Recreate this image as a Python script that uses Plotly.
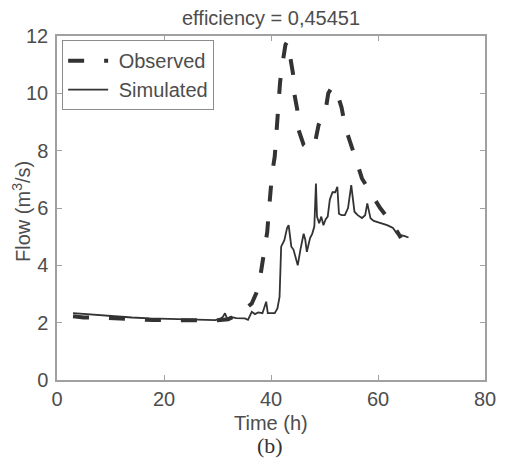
import plotly.graph_objects as go

# Observed flow (dashed)
obs_t = [3.0, 5.0, 8.0, 11.0, 14.0, 18.0, 22.0, 25.0, 28.0, 30.0, 32.0, 33.5, 34.2, 35.3, 36.4,
         37.3, 37.8, 38.3, 38.9, 39.3, 39.6, 39.9, 40.2, 40.7, 41.0, 41.3, 41.5, 41.7, 42.2,
         42.7, 43.1, 43.6, 44.1, 44.3, 44.9, 45.1, 45.6, 46.1, 47.2, 48.3, 48.9, 49.6, 50.2,
         50.7, 51.5, 52.3, 53.2, 53.9, 54.9, 55.5, 56.1, 57.0, 58.0, 58.9, 60.4, 61.5, 62.6,
         63.5, 64.3]
obs_q = [2.22, 2.18, 2.17, 2.16, 2.13, 2.09, 2.08, 2.08, 2.07, 2.08, 2.12, 2.25, 2.38, 2.50, 2.67,
         3.05, 3.37, 3.95, 4.59, 5.17, 5.90, 6.50, 7.20, 7.80, 8.50, 9.10, 9.80, 10.40, 11.10,
         11.70, 11.82, 11.33, 10.70, 10.05, 9.44, 8.75, 8.45, 8.20, 8.02, 8.34, 8.90, 9.20, 9.40,
         10.00, 10.25, 10.05, 9.50, 8.80, 8.28, 7.90, 7.56, 7.03, 6.70, 6.45, 6.00, 5.75, 5.47,
         5.20, 4.95]

# Simulated flow (solid)
sim_t = [3.0, 5.0, 7.3, 9.0, 11.7, 14.0, 17.3, 21.0, 25.2, 29.6, 30.5, 31.0, 31.4, 31.8, 32.5,
         33.5, 35.1, 35.7, 36.4, 37.0, 37.6, 38.4, 39.1, 39.4, 40.7, 41.2, 41.6, 41.9, 42.5,
         43.0, 43.3, 43.8, 44.2, 44.6, 45.0, 45.5, 46.1, 46.4, 46.7, 47.3, 47.7, 48.1, 48.4,
         48.6, 49.0, 49.4, 49.8, 50.2, 50.6, 51.0, 51.5, 52.0, 52.4, 52.7, 53.2, 53.8, 54.4,
         55.0, 55.3, 55.6, 56.2, 57.0, 57.6, 58.0, 58.3, 58.6, 59.2, 59.8, 60.7, 61.7, 62.3,
         62.8, 63.5, 64.1, 65.0, 65.7]
sim_q = [2.33, 2.30, 2.27, 2.25, 2.21, 2.18, 2.15, 2.13, 2.12, 2.09, 2.14, 2.20, 2.33, 2.14, 2.20,
         2.16, 2.15, 2.10, 2.38, 2.30, 2.36, 2.33, 2.73, 2.33, 2.33, 2.50, 2.90, 4.65, 4.88,
         5.30, 5.40, 4.65, 4.55, 4.24, 4.00, 4.55, 5.10, 4.90, 4.47, 4.95, 5.10, 5.35, 6.85,
         5.70, 5.47, 5.70, 5.40, 5.60, 5.70, 6.30, 6.55, 6.55, 6.74, 5.80, 5.75, 5.75, 6.00,
         6.80, 6.20, 5.87, 5.75, 5.65, 5.75, 6.16, 5.90, 5.64, 5.55, 5.52, 5.45, 5.40, 5.35,
         5.30, 5.12, 5.06, 5.02, 4.97]

series_names = ["Observed", "Simulated"]
x_ticks = [0, 20, 40, 60, 80]
y_ticks = [0, 2, 4, 6, 8, 10, 12]

TXT = "#4d4d4d"
LINE = "#333333"
AX = "#a0a0a0"
FONT = "Liberation Sans, Arial, sans-serif"

fig = go.Figure()
fig.add_trace(go.Scatter(x=obs_t, y=obs_q, mode="lines", name=" " + series_names[0],
                         line=dict(color=LINE, width=4, dash="16px,20px")))
fig.add_trace(go.Scatter(x=sim_t, y=sim_q, mode="lines", name=" " + series_names[1],
                         line=dict(color=LINE, width=1.8)))

axis_common = dict(showgrid=False, zeroline=False, showline=True, linecolor=AX, linewidth=1.5,
                   mirror="ticks", ticks="inside", ticklen=5, tickcolor=AX, tickwidth=1,
                   tickfont=dict(family=FONT, size=20, color=TXT))
fig.update_xaxes(range=[0, 80], tickvals=x_ticks, **axis_common)
fig.update_yaxes(range=[0, 12], tickvals=y_ticks, ticklabelstandoff=3, **axis_common)

fig.update_layout(
    width=508, height=464,
    margin=dict(l=57, r=19, t=36, b=84),
    paper_bgcolor="white", plot_bgcolor="white",
    showlegend=True,
    legend=dict(x=0.012, y=0.988, xanchor="left", yanchor="top", itemwidth=40,
                bgcolor="white", bordercolor="#8c8c8c", borderwidth=1,
                font=dict(family=FONT, size=20, color=TXT), tracegroupgap=0),
    annotations=[
        dict(text="efficiency = 0,45451", xref="paper", yref="paper", x=0.5, y=1.052,
             xanchor="center", yanchor="middle", showarrow=False,
             font=dict(family=FONT, size=20, color=TXT)),
        dict(text="Time (h)", xref="paper", yref="paper", x=0.5, y=-0.125,
             xanchor="center", yanchor="middle", showarrow=False,
             font=dict(family=FONT, size=20, color=TXT)),
        dict(text="(b)", xref="paper", yref="paper", x=0.497, y=-0.189,
             xanchor="center", yanchor="middle", showarrow=False,
             font=dict(family="Liberation Serif, serif", size=22, color="#333333")),
        dict(text="Flow (m<sup>3</sup>/s)", xref="paper", yref="paper", x=-0.083, y=0.49,
             xanchor="center", yanchor="middle", showarrow=False, textangle=-90,
             font=dict(family=FONT, size=20, color=TXT)),
    ],
)

fig.write_html("out.html")
